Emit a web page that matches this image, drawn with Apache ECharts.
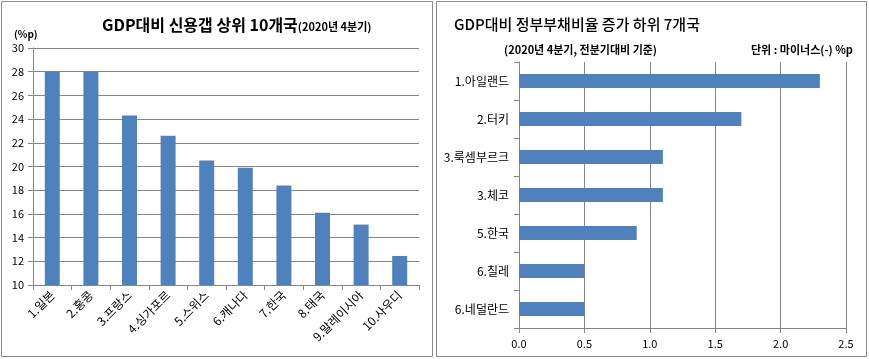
<!DOCTYPE html>
<html><head><meta charset="utf-8">
<script src="https://cdn.jsdelivr.net/npm/echarts@6/dist/echarts.min.js"></script>
<style>html,body{margin:0;padding:0;background:#fff;}#c{width:869px;height:359px;}</style>
</head><body><div id="c"></div>
<script>
const leftCategories = ['1.일본','2.홍콩','3.프랑스','4.싱가포르','5.스위스','6.캐나다','7.한국','8.태국','9.말레이시아','10.사우디'];
const leftValues = [28.0, 28.0, 24.3, 22.6, 20.5, 19.9, 18.4, 16.1, 15.1, 12.45];
const rightCategories = ['1.아일랜드','2.터키','3.룩셈부르크','3.체코','5.한국','6.칠레','6.네덜란드'];
const rightValues = [2.3, 1.7, 1.1, 1.1, 0.9, 0.5, 0.5];

const FONT = '"Noto Sans CJK KR", "Noto Sans", sans-serif';
const chart = echarts.init(document.getElementById('c'), null, {renderer:'canvas'});
const gridColor = '#868686';
const barColor = '#4F81BD';
chart.setOption({
  animation:false,
  textStyle:{fontFamily:FONT},
  title:[
    {left:97, top:12, text:'{a|GDP대비 신용갭 상위 10개국}{b|(2020년 4분기)}',
     textStyle:{rich:{a:{fontSize:16,fontWeight:'bold',color:'#000',fontFamily:FONT},b:{fontSize:11,fontWeight:'bold',color:'#000',fontFamily:FONT,padding:[4,0,0,0]}}}},
    {left:9, top:24, text:'(%p)', textStyle:{fontSize:10,fontWeight:'bold',color:'#000',fontFamily:FONT}},
    {left:449, top:12, text:'GDP대비 정부부채비율 증가 하위 7개국', textStyle:{fontSize:15,fontWeight:500,color:'#000',fontFamily:FONT}},
    {left:499, top:39, text:'(2020년 4분기, 전분기대비 기준)', textStyle:{fontSize:11,fontWeight:'bold',color:'#000',fontFamily:FONT}},
    {left:746, top:39, text:'단위 : 마이너스(-) %p', textStyle:{fontSize:11,fontWeight:'bold',color:'#000',fontFamily:FONT}}
  ],
  graphic:[
    {type:'rect', shape:{x:1.5,y:1.5,width:431,height:355}, style:{fill:null,stroke:'#8a8a8a',lineWidth:1}},
    {type:'rect', shape:{x:436.5,y:1.5,width:430,height:355}, style:{fill:null,stroke:'#8a8a8a',lineWidth:1}}
  ],
  grid:[
    {left:33, right:450, top:48, bottom:74},
    {left:519, right:23, top:62, bottom:31}
  ],
  xAxis:[
    {gridIndex:0, type:'category', data:leftCategories,
     axisLine:{lineStyle:{color:gridColor}}, axisTick:{show:true, alignWithLabel:false, length:5, lineStyle:{color:gridColor}},
     axisLabel:{rotate:45, fontSize:12, color:'#000', fontFamily:FONT, interval:0, margin:8}},
    {gridIndex:1, type:'value', min:0, max:2.5, interval:0.5,
     axisLine:{show:true, lineStyle:{color:gridColor}}, axisTick:{show:true, length:5, lineStyle:{color:gridColor}},
     splitLine:{show:true, lineStyle:{color:gridColor}},
     axisLabel:{fontSize:11, color:'#000', fontFamily:FONT, margin:10, formatter:v=>v.toFixed(1)}}
  ],
  yAxis:[
    {gridIndex:0, type:'value', min:10, max:30, interval:2,
     axisLine:{show:true, lineStyle:{color:gridColor}}, axisTick:{show:true, length:5, lineStyle:{color:gridColor}},
     splitLine:{show:true, lineStyle:{color:gridColor}},
     axisLabel:{fontSize:11, color:'#000', fontFamily:FONT, margin:9}},
    {gridIndex:1, type:'category', data:rightCategories, inverse:true,
     axisLine:{show:true, lineStyle:{color:gridColor}}, axisTick:{show:true, length:5, lineStyle:{color:gridColor}},
     axisLabel:{fontSize:12, color:'#000', fontFamily:FONT, margin:10}}
  ],
  series:[
    {type:'bar', xAxisIndex:0, yAxisIndex:0, data:leftValues, barWidth:15, itemStyle:{color:barColor}},
    {type:'bar', xAxisIndex:1, yAxisIndex:1, data:rightValues, barWidth:14, itemStyle:{color:barColor}}
  ]
});
</script></body></html>
